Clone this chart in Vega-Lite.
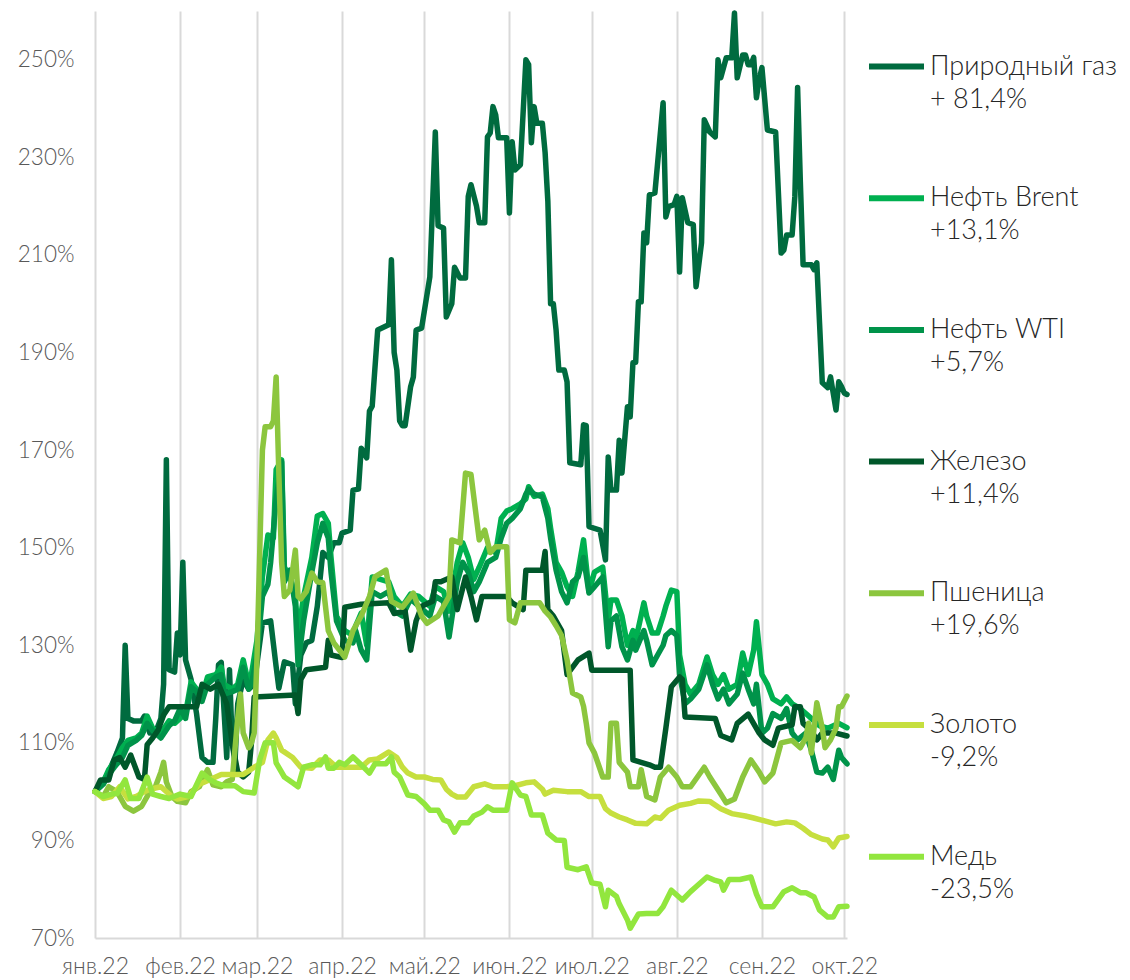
{
"$schema": "https://vega.github.io/schema/vega-lite/v6.json",
"autosize": {"type": "none"},
"padding": {"left": 95, "top": 11, "right": 283, "bottom": 42},
"width": 752,
"height": 927,
"background": "white",
"config": {"view": {"stroke": null}, "font": "Lato", "style": {"guide-label": {"lineHeight": 33}}},
"data": {"values": [
{"s":"a","d":"2022-01-01","v":100},{"s":"a","d":"2022-01-04","v":102},{"s":"a","d":"2022-01-06","v":104},{"s":"a","d":"2022-01-09","v":108},{"s":"a","d":"2022-01-11","v":111},{"s":"a","d":"2022-01-12","v":130},{"s":"a","d":"2022-01-13","v":115},{"s":"a","d":"2022-01-15","v":114.5},{"s":"a","d":"2022-01-18","v":114.5},{"s":"a","d":"2022-01-19","v":115.5},{"s":"a","d":"2022-01-21","v":112},{"s":"a","d":"2022-01-23","v":112},{"s":"a","d":"2022-01-25","v":115},{"s":"a","d":"2022-01-26","v":122},{"s":"a","d":"2022-01-27","v":168},{"s":"a","d":"2022-01-28","v":125},{"s":"a","d":"2022-01-30","v":124.5},{"s":"a","d":"2022-01-31","v":132.5},{"s":"a","d":"2022-02-01","v":128},{"s":"a","d":"2022-02-02","v":147},{"s":"a","d":"2022-02-03","v":127},{"s":"a","d":"2022-02-05","v":123},{"s":"a","d":"2022-02-07","v":116},{"s":"a","d":"2022-02-09","v":107},{"s":"a","d":"2022-02-11","v":106},{"s":"a","d":"2022-02-13","v":106},{"s":"a","d":"2022-02-14","v":115},{"s":"a","d":"2022-02-15","v":126},{"s":"a","d":"2022-02-16","v":126.5},{"s":"a","d":"2022-02-18","v":107},{"s":"a","d":"2022-02-19","v":125},{"s":"a","d":"2022-02-20","v":110},{"s":"a","d":"2022-02-21","v":106},{"s":"a","d":"2022-02-22","v":118},{"s":"a","d":"2022-02-24","v":123},{"s":"a","d":"2022-02-26","v":121},{"s":"a","d":"2022-02-28","v":122},{"s":"a","d":"2022-03-03","v":134.6},{"s":"a","d":"2022-03-06","v":135},{"s":"a","d":"2022-03-08","v":125.6},{"s":"a","d":"2022-03-09","v":121.2},{"s":"a","d":"2022-03-11","v":126.6},{"s":"a","d":"2022-03-14","v":126},{"s":"a","d":"2022-03-15","v":118},{"s":"a","d":"2022-03-17","v":128},{"s":"a","d":"2022-03-19","v":130.5},{"s":"a","d":"2022-03-21","v":131},{"s":"a","d":"2022-03-23","v":138},{"s":"a","d":"2022-03-25","v":149},{"s":"a","d":"2022-03-27","v":148},{"s":"a","d":"2022-03-29","v":151},{"s":"a","d":"2022-03-31","v":151},{"s":"a","d":"2022-04-01","v":153},{"s":"a","d":"2022-04-04","v":153.6},{"s":"a","d":"2022-04-05","v":161.8},{"s":"a","d":"2022-04-07","v":162},{"s":"a","d":"2022-04-08","v":170.4},{"s":"a","d":"2022-04-10","v":168.4},{"s":"a","d":"2022-04-11","v":178},{"s":"a","d":"2022-04-12","v":179},{"s":"a","d":"2022-04-14","v":194.6},{"s":"a","d":"2022-04-18","v":195.7},{"s":"a","d":"2022-04-19","v":209},{"s":"a","d":"2022-04-20","v":190},{"s":"a","d":"2022-04-21","v":186.4},{"s":"a","d":"2022-04-22","v":176},{"s":"a","d":"2022-04-23","v":175},{"s":"a","d":"2022-04-24","v":175},{"s":"a","d":"2022-04-26","v":183},{"s":"a","d":"2022-04-27","v":185},{"s":"a","d":"2022-04-28","v":194.6},{"s":"a","d":"2022-04-30","v":195},{"s":"a","d":"2022-05-03","v":205.5},{"s":"a","d":"2022-05-05","v":235.2},{"s":"a","d":"2022-05-06","v":216},{"s":"a","d":"2022-05-08","v":215.5},{"s":"a","d":"2022-05-09","v":197.3},{"s":"a","d":"2022-05-11","v":200},{"s":"a","d":"2022-05-12","v":207.5},{"s":"a","d":"2022-05-14","v":205.3},{"s":"a","d":"2022-05-16","v":205.3},{"s":"a","d":"2022-05-17","v":222},{"s":"a","d":"2022-05-18","v":224.4},{"s":"a","d":"2022-05-20","v":220},{"s":"a","d":"2022-05-21","v":216.6},{"s":"a","d":"2022-05-23","v":216.6},{"s":"a","d":"2022-05-24","v":234.2},{"s":"a","d":"2022-05-25","v":235},{"s":"a","d":"2022-05-26","v":240.4},{"s":"a","d":"2022-05-27","v":238.7},{"s":"a","d":"2022-05-28","v":234},{"s":"a","d":"2022-05-31","v":234},{"s":"a","d":"2022-06-01","v":218.6},{"s":"a","d":"2022-06-02","v":233.2},{"s":"a","d":"2022-06-03","v":227.4},{"s":"a","d":"2022-06-05","v":228.5},{"s":"a","d":"2022-06-07","v":250},{"s":"a","d":"2022-06-08","v":249},{"s":"a","d":"2022-06-09","v":233},{"s":"a","d":"2022-06-10","v":240.4},{"s":"a","d":"2022-06-11","v":237},{"s":"a","d":"2022-06-13","v":237},{"s":"a","d":"2022-06-14","v":231},{"s":"a","d":"2022-06-15","v":221},{"s":"a","d":"2022-06-16","v":200},{"s":"a","d":"2022-06-17","v":200},{"s":"a","d":"2022-06-18","v":194.6},{"s":"a","d":"2022-06-19","v":186.4},{"s":"a","d":"2022-06-21","v":186.4},{"s":"a","d":"2022-06-22","v":184},{"s":"a","d":"2022-06-23","v":167.4},{"s":"a","d":"2022-06-27","v":167},{"s":"a","d":"2022-06-28","v":175.2},{"s":"a","d":"2022-06-29","v":175},{"s":"a","d":"2022-06-30","v":154.3},{"s":"a","d":"2022-07-04","v":153.6},{"s":"a","d":"2022-07-06","v":147.5},{"s":"a","d":"2022-07-07","v":168.6},{"s":"a","d":"2022-07-08","v":161.8},{"s":"a","d":"2022-07-10","v":161.8},{"s":"a","d":"2022-07-11","v":172},{"s":"a","d":"2022-07-12","v":165.3},{"s":"a","d":"2022-07-14","v":178.9},{"s":"a","d":"2022-07-15","v":176.8},{"s":"a","d":"2022-07-16","v":187.9},{"s":"a","d":"2022-07-17","v":188},{"s":"a","d":"2022-07-18","v":200.4},{"s":"a","d":"2022-07-19","v":200.4},{"s":"a","d":"2022-07-20","v":214.5},{"s":"a","d":"2022-07-21","v":212.5},{"s":"a","d":"2022-07-22","v":222.3},{"s":"a","d":"2022-07-24","v":222.7},{"s":"a","d":"2022-07-27","v":241.2},{"s":"a","d":"2022-07-28","v":217.8},{"s":"a","d":"2022-07-29","v":219.9},{"s":"a","d":"2022-07-31","v":220.3},{"s":"a","d":"2022-08-01","v":222},{"s":"a","d":"2022-08-02","v":206.5},{"s":"a","d":"2022-08-03","v":221.7},{"s":"a","d":"2022-08-05","v":216.6},{"s":"a","d":"2022-08-07","v":216.2},{"s":"a","d":"2022-08-08","v":203.5},{"s":"a","d":"2022-08-10","v":212.5},{"s":"a","d":"2022-08-11","v":237.7},{"s":"a","d":"2022-08-13","v":235.2},{"s":"a","d":"2022-08-15","v":234.2},{"s":"a","d":"2022-08-16","v":250},{"s":"a","d":"2022-08-17","v":246.3},{"s":"a","d":"2022-08-19","v":250.4},{"s":"a","d":"2022-08-21","v":250.4},{"s":"a","d":"2022-08-22","v":259.6},{"s":"a","d":"2022-08-23","v":246.3},{"s":"a","d":"2022-08-25","v":251},{"s":"a","d":"2022-08-26","v":251},{"s":"a","d":"2022-08-27","v":249},{"s":"a","d":"2022-08-28","v":249},{"s":"a","d":"2022-08-29","v":250.5},{"s":"a","d":"2022-08-30","v":242.2},{"s":"a","d":"2022-08-31","v":246},{"s":"a","d":"2022-09-01","v":248.4},{"s":"a","d":"2022-09-03","v":235.6},{"s":"a","d":"2022-09-06","v":235.2},{"s":"a","d":"2022-09-08","v":210.4},{"s":"a","d":"2022-09-09","v":211},{"s":"a","d":"2022-09-10","v":214.1},{"s":"a","d":"2022-09-12","v":214.1},{"s":"a","d":"2022-09-13","v":222},{"s":"a","d":"2022-09-14","v":244.3},{"s":"a","d":"2022-09-15","v":225},{"s":"a","d":"2022-09-16","v":208},{"s":"a","d":"2022-09-19","v":208},{"s":"a","d":"2022-09-20","v":207},{"s":"a","d":"2022-09-21","v":208.4},{"s":"a","d":"2022-09-22","v":196},{"s":"a","d":"2022-09-23","v":183.8},{"s":"a","d":"2022-09-25","v":182.8},{"s":"a","d":"2022-09-26","v":185},{"s":"a","d":"2022-09-28","v":178.2},{"s":"a","d":"2022-09-29","v":184},{"s":"a","d":"2022-09-30","v":183},{"s":"a","d":"2022-10-01","v":181.7},{"s":"a","d":"2022-10-02","v":181.4},
{"s":"b","d":"2022-01-01","v":100},{"s":"b","d":"2022-01-04","v":102},{"s":"b","d":"2022-01-06","v":104.5},{"s":"b","d":"2022-01-08","v":106},{"s":"b","d":"2022-01-11","v":109},{"s":"b","d":"2022-01-13","v":110.5},{"s":"b","d":"2022-01-16","v":111},{"s":"b","d":"2022-01-18","v":112},{"s":"b","d":"2022-01-20","v":115.5},{"s":"b","d":"2022-01-22","v":113},{"s":"b","d":"2022-01-25","v":112},{"s":"b","d":"2022-01-28","v":114.5},{"s":"b","d":"2022-01-30","v":114},{"s":"b","d":"2022-02-01","v":115},{"s":"b","d":"2022-02-03","v":116},{"s":"b","d":"2022-02-05","v":122.5},{"s":"b","d":"2022-02-07","v":121},{"s":"b","d":"2022-02-09","v":119.5},{"s":"b","d":"2022-02-11","v":123.5},{"s":"b","d":"2022-02-14","v":124},{"s":"b","d":"2022-02-16","v":125.5},{"s":"b","d":"2022-02-17","v":122},{"s":"b","d":"2022-02-20","v":121},{"s":"b","d":"2022-02-22","v":122},{"s":"b","d":"2022-02-24","v":127},{"s":"b","d":"2022-02-26","v":122},{"s":"b","d":"2022-02-27","v":124},{"s":"b","d":"2022-03-01","v":131},{"s":"b","d":"2022-03-03","v":144},{"s":"b","d":"2022-03-05","v":152.6},{"s":"b","d":"2022-03-07","v":152},{"s":"b","d":"2022-03-08","v":166},{"s":"b","d":"2022-03-10","v":168},{"s":"b","d":"2022-03-11","v":146},{"s":"b","d":"2022-03-13","v":144},{"s":"b","d":"2022-03-15","v":140},{"s":"b","d":"2022-03-16","v":132},{"s":"b","d":"2022-03-18","v":140},{"s":"b","d":"2022-03-21","v":148},{"s":"b","d":"2022-03-23","v":156.5},{"s":"b","d":"2022-03-25","v":157},{"s":"b","d":"2022-03-27","v":155},{"s":"b","d":"2022-03-28","v":148},{"s":"b","d":"2022-03-30","v":136},{"s":"b","d":"2022-04-02","v":133},{"s":"b","d":"2022-04-05","v":132},{"s":"b","d":"2022-04-06","v":134},{"s":"b","d":"2022-04-08","v":136.6},{"s":"b","d":"2022-04-10","v":130},{"s":"b","d":"2022-04-12","v":144},{"s":"b","d":"2022-04-15","v":143.5},{"s":"b","d":"2022-04-18","v":143},{"s":"b","d":"2022-04-20","v":140},{"s":"b","d":"2022-04-23","v":138},{"s":"b","d":"2022-04-26","v":140.5},{"s":"b","d":"2022-04-29","v":140},{"s":"b","d":"2022-05-01","v":139},{"s":"b","d":"2022-05-03","v":138},{"s":"b","d":"2022-05-05","v":142},{"s":"b","d":"2022-05-08","v":141},{"s":"b","d":"2022-05-10","v":137},{"s":"b","d":"2022-05-13","v":147},{"s":"b","d":"2022-05-15","v":151},{"s":"b","d":"2022-05-17","v":148},{"s":"b","d":"2022-05-19","v":143.5},{"s":"b","d":"2022-05-21","v":146},{"s":"b","d":"2022-05-24","v":150},{"s":"b","d":"2022-05-27","v":149},{"s":"b","d":"2022-05-29","v":156},{"s":"b","d":"2022-05-31","v":157.5},{"s":"b","d":"2022-06-02","v":158},{"s":"b","d":"2022-06-05","v":159},{"s":"b","d":"2022-06-07","v":160},{"s":"b","d":"2022-06-08","v":162.5},{"s":"b","d":"2022-06-10","v":160.5},{"s":"b","d":"2022-06-13","v":161},{"s":"b","d":"2022-06-15","v":158},{"s":"b","d":"2022-06-16","v":154},{"s":"b","d":"2022-06-18","v":147},{"s":"b","d":"2022-06-20","v":145},{"s":"b","d":"2022-06-22","v":142},{"s":"b","d":"2022-06-24","v":140},{"s":"b","d":"2022-06-26","v":145},{"s":"b","d":"2022-06-28","v":151.6},{"s":"b","d":"2022-06-30","v":141},{"s":"b","d":"2022-07-02","v":145},{"s":"b","d":"2022-07-05","v":146},{"s":"b","d":"2022-07-07","v":135},{"s":"b","d":"2022-07-08","v":139.3},{"s":"b","d":"2022-07-10","v":139.3},{"s":"b","d":"2022-07-12","v":136},{"s":"b","d":"2022-07-14","v":130},{"s":"b","d":"2022-07-16","v":133},{"s":"b","d":"2022-07-17","v":131},{"s":"b","d":"2022-07-20","v":138.7},{"s":"b","d":"2022-07-21","v":136},{"s":"b","d":"2022-07-23","v":132.5},{"s":"b","d":"2022-07-25","v":132.5},{"s":"b","d":"2022-07-27","v":136},{"s":"b","d":"2022-07-28","v":138},{"s":"b","d":"2022-07-30","v":141.3},{"s":"b","d":"2022-08-01","v":141},{"s":"b","d":"2022-08-02","v":128},{"s":"b","d":"2022-08-04","v":122},{"s":"b","d":"2022-08-06","v":120},{"s":"b","d":"2022-08-09","v":122},{"s":"b","d":"2022-08-12","v":127.6},{"s":"b","d":"2022-08-14","v":124},{"s":"b","d":"2022-08-16","v":122},{"s":"b","d":"2022-08-18","v":124},{"s":"b","d":"2022-08-20","v":121},{"s":"b","d":"2022-08-23","v":122},{"s":"b","d":"2022-08-25","v":128.4},{"s":"b","d":"2022-08-27","v":124},{"s":"b","d":"2022-08-29","v":129},{"s":"b","d":"2022-08-30","v":134.8},{"s":"b","d":"2022-09-01","v":124},{"s":"b","d":"2022-09-03","v":122},{"s":"b","d":"2022-09-05","v":119},{"s":"b","d":"2022-09-08","v":118},{"s":"b","d":"2022-09-10","v":119.4},{"s":"b","d":"2022-09-12","v":118},{"s":"b","d":"2022-09-15","v":117},{"s":"b","d":"2022-09-17","v":116},{"s":"b","d":"2022-09-20","v":114.5},{"s":"b","d":"2022-09-22","v":113.5},{"s":"b","d":"2022-09-25","v":113},{"s":"b","d":"2022-09-27","v":113.5},{"s":"b","d":"2022-09-29","v":114},{"s":"b","d":"2022-10-02","v":113.1},
{"s":"c","d":"2022-01-01","v":100},{"s":"c","d":"2022-01-04","v":101.5},{"s":"c","d":"2022-01-06","v":103.5},{"s":"c","d":"2022-01-08","v":105},{"s":"c","d":"2022-01-11","v":107},{"s":"c","d":"2022-01-13","v":109.5},{"s":"c","d":"2022-01-16","v":110.5},{"s":"c","d":"2022-01-18","v":111.5},{"s":"c","d":"2022-01-20","v":114},{"s":"c","d":"2022-01-22","v":112.5},{"s":"c","d":"2022-01-25","v":111},{"s":"c","d":"2022-01-28","v":113.5},{"s":"c","d":"2022-01-30","v":114.5},{"s":"c","d":"2022-02-01","v":117},{"s":"c","d":"2022-02-03","v":115},{"s":"c","d":"2022-02-05","v":121.5},{"s":"c","d":"2022-02-07","v":120.5},{"s":"c","d":"2022-02-09","v":118.5},{"s":"c","d":"2022-02-11","v":122},{"s":"c","d":"2022-02-14","v":123.5},{"s":"c","d":"2022-02-16","v":124},{"s":"c","d":"2022-02-17","v":120},{"s":"c","d":"2022-02-20","v":120.5},{"s":"c","d":"2022-02-22","v":121},{"s":"c","d":"2022-02-24","v":125.5},{"s":"c","d":"2022-02-26","v":121},{"s":"c","d":"2022-02-27","v":122},{"s":"c","d":"2022-03-01","v":128},{"s":"c","d":"2022-03-03","v":140},{"s":"c","d":"2022-03-05","v":142.5},{"s":"c","d":"2022-03-06","v":147},{"s":"c","d":"2022-03-07","v":153.4},{"s":"c","d":"2022-03-08","v":160},{"s":"c","d":"2022-03-10","v":167.6},{"s":"c","d":"2022-03-11","v":143},{"s":"c","d":"2022-03-13","v":145.4},{"s":"c","d":"2022-03-15","v":138},{"s":"c","d":"2022-03-16","v":126},{"s":"c","d":"2022-03-18","v":135},{"s":"c","d":"2022-03-21","v":145},{"s":"c","d":"2022-03-23","v":151},{"s":"c","d":"2022-03-25","v":155},{"s":"c","d":"2022-03-27","v":152},{"s":"c","d":"2022-03-28","v":145},{"s":"c","d":"2022-03-30","v":135},{"s":"c","d":"2022-04-02","v":131},{"s":"c","d":"2022-04-05","v":130.5},{"s":"c","d":"2022-04-06","v":133},{"s":"c","d":"2022-04-08","v":129},{"s":"c","d":"2022-04-10","v":127},{"s":"c","d":"2022-04-12","v":141},{"s":"c","d":"2022-04-15","v":140},{"s":"c","d":"2022-04-18","v":141},{"s":"c","d":"2022-04-20","v":137},{"s":"c","d":"2022-04-23","v":136},{"s":"c","d":"2022-04-26","v":139.5},{"s":"c","d":"2022-04-29","v":138},{"s":"c","d":"2022-05-01","v":137},{"s":"c","d":"2022-05-03","v":136},{"s":"c","d":"2022-05-05","v":140},{"s":"c","d":"2022-05-08","v":139},{"s":"c","d":"2022-05-10","v":131.7},{"s":"c","d":"2022-05-13","v":143},{"s":"c","d":"2022-05-15","v":147},{"s":"c","d":"2022-05-17","v":145},{"s":"c","d":"2022-05-19","v":141},{"s":"c","d":"2022-05-21","v":143},{"s":"c","d":"2022-05-24","v":147},{"s":"c","d":"2022-05-27","v":148},{"s":"c","d":"2022-05-29","v":152},{"s":"c","d":"2022-05-31","v":155},{"s":"c","d":"2022-06-02","v":156},{"s":"c","d":"2022-06-05","v":158},{"s":"c","d":"2022-06-07","v":161},{"s":"c","d":"2022-06-08","v":162},{"s":"c","d":"2022-06-10","v":161},{"s":"c","d":"2022-06-13","v":160.4},{"s":"c","d":"2022-06-15","v":156},{"s":"c","d":"2022-06-16","v":152},{"s":"c","d":"2022-06-18","v":145.4},{"s":"c","d":"2022-06-20","v":141},{"s":"c","d":"2022-06-22","v":138.7},{"s":"c","d":"2022-06-24","v":143},{"s":"c","d":"2022-06-26","v":144},{"s":"c","d":"2022-06-28","v":148},{"s":"c","d":"2022-06-30","v":140.7},{"s":"c","d":"2022-07-02","v":142},{"s":"c","d":"2022-07-05","v":144},{"s":"c","d":"2022-07-07","v":129.7},{"s":"c","d":"2022-07-08","v":135},{"s":"c","d":"2022-07-10","v":136},{"s":"c","d":"2022-07-12","v":129.7},{"s":"c","d":"2022-07-14","v":127},{"s":"c","d":"2022-07-16","v":131},{"s":"c","d":"2022-07-17","v":129},{"s":"c","d":"2022-07-20","v":133},{"s":"c","d":"2022-07-21","v":131},{"s":"c","d":"2022-07-23","v":126},{"s":"c","d":"2022-07-25","v":128},{"s":"c","d":"2022-07-27","v":130},{"s":"c","d":"2022-07-28","v":132},{"s":"c","d":"2022-07-30","v":133},{"s":"c","d":"2022-08-01","v":132},{"s":"c","d":"2022-08-02","v":124},{"s":"c","d":"2022-08-04","v":118},{"s":"c","d":"2022-08-06","v":119},{"s":"c","d":"2022-08-09","v":121},{"s":"c","d":"2022-08-12","v":126},{"s":"c","d":"2022-08-14","v":122},{"s":"c","d":"2022-08-16","v":119},{"s":"c","d":"2022-08-18","v":121},{"s":"c","d":"2022-08-20","v":118},{"s":"c","d":"2022-08-23","v":120},{"s":"c","d":"2022-08-25","v":124.3},{"s":"c","d":"2022-08-27","v":121},{"s":"c","d":"2022-08-29","v":118},{"s":"c","d":"2022-08-30","v":122},{"s":"c","d":"2022-09-01","v":112},{"s":"c","d":"2022-09-03","v":113},{"s":"c","d":"2022-09-05","v":116},{"s":"c","d":"2022-09-08","v":115},{"s":"c","d":"2022-09-10","v":117},{"s":"c","d":"2022-09-12","v":112},{"s":"c","d":"2022-09-14","v":110.6},{"s":"c","d":"2022-09-17","v":112},{"s":"c","d":"2022-09-19","v":108.5},{"s":"c","d":"2022-09-21","v":104},{"s":"c","d":"2022-09-23","v":103.8},{"s":"c","d":"2022-09-25","v":105},{"s":"c","d":"2022-09-27","v":102.5},{"s":"c","d":"2022-09-29","v":108.5},{"s":"c","d":"2022-09-30","v":107},{"s":"c","d":"2022-10-02","v":105.7},
{"s":"d","d":"2022-01-01","v":100},{"s":"d","d":"2022-01-03","v":102.4},{"s":"d","d":"2022-01-06","v":102.4},{"s":"d","d":"2022-01-08","v":106.5},{"s":"d","d":"2022-01-10","v":107},{"s":"d","d":"2022-01-12","v":105},{"s":"d","d":"2022-01-14","v":107.5},{"s":"d","d":"2022-01-17","v":103},{"s":"d","d":"2022-01-19","v":102.5},{"s":"d","d":"2022-01-20","v":109.6},{"s":"d","d":"2022-01-22","v":111},{"s":"d","d":"2022-01-24","v":112.6},{"s":"d","d":"2022-01-26","v":115.7},{"s":"d","d":"2022-01-28","v":117.4},{"s":"d","d":"2022-02-07","v":117.4},{"s":"d","d":"2022-02-09","v":122},{"s":"d","d":"2022-02-12","v":121},{"s":"d","d":"2022-02-15","v":122},{"s":"d","d":"2022-02-18","v":118},{"s":"d","d":"2022-02-20","v":110},{"s":"d","d":"2022-02-22","v":104},{"s":"d","d":"2022-02-24","v":103},{"s":"d","d":"2022-02-26","v":104},{"s":"d","d":"2022-02-27","v":110},{"s":"d","d":"2022-02-28","v":119.4},{"s":"d","d":"2022-03-15","v":119.8},{"s":"d","d":"2022-03-16","v":116},{"s":"d","d":"2022-03-17","v":123},{"s":"d","d":"2022-03-19","v":125},{"s":"d","d":"2022-03-26","v":125.5},{"s":"d","d":"2022-03-27","v":131},{"s":"d","d":"2022-03-28","v":128},{"s":"d","d":"2022-04-01","v":127.5},{"s":"d","d":"2022-04-02","v":137.8},{"s":"d","d":"2022-04-08","v":138.4},{"s":"d","d":"2022-04-18","v":138.7},{"s":"d","d":"2022-04-20","v":136.5},{"s":"d","d":"2022-04-24","v":137},{"s":"d","d":"2022-04-26","v":129},{"s":"d","d":"2022-04-28","v":135},{"s":"d","d":"2022-04-30","v":138},{"s":"d","d":"2022-05-04","v":139},{"s":"d","d":"2022-05-05","v":143},{"s":"d","d":"2022-05-07","v":143},{"s":"d","d":"2022-05-11","v":144},{"s":"d","d":"2022-05-13","v":137.3},{"s":"d","d":"2022-05-16","v":144},{"s":"d","d":"2022-05-18","v":140},{"s":"d","d":"2022-05-20","v":135.2},{"s":"d","d":"2022-05-22","v":140},{"s":"d","d":"2022-05-31","v":140},{"s":"d","d":"2022-06-02","v":138.7},{"s":"d","d":"2022-06-06","v":137.3},{"s":"d","d":"2022-06-07","v":145.4},{"s":"d","d":"2022-06-13","v":145.4},{"s":"d","d":"2022-06-14","v":149.2},{"s":"d","d":"2022-06-15","v":137.3},{"s":"d","d":"2022-06-17","v":136},{"s":"d","d":"2022-06-20","v":133},{"s":"d","d":"2022-06-22","v":124},{"s":"d","d":"2022-06-26","v":127},{"s":"d","d":"2022-06-30","v":128.4},{"s":"d","d":"2022-07-01","v":124.9},{"s":"d","d":"2022-07-15","v":124.9},{"s":"d","d":"2022-07-16","v":106.5},{"s":"d","d":"2022-07-22","v":105.5},{"s":"d","d":"2022-07-24","v":105},{"s":"d","d":"2022-07-26","v":105},{"s":"d","d":"2022-07-28","v":113},{"s":"d","d":"2022-07-30","v":121.5},{"s":"d","d":"2022-08-02","v":123.5},{"s":"d","d":"2022-08-03","v":123},{"s":"d","d":"2022-08-04","v":115.3},{"s":"d","d":"2022-08-15","v":115},{"s":"d","d":"2022-08-17","v":111.5},{"s":"d","d":"2022-08-21","v":110.6},{"s":"d","d":"2022-08-23","v":114},{"s":"d","d":"2022-08-27","v":115.9},{"s":"d","d":"2022-08-31","v":112},{"s":"d","d":"2022-09-02","v":110.6},{"s":"d","d":"2022-09-05","v":109.5},{"s":"d","d":"2022-09-07","v":113},{"s":"d","d":"2022-09-12","v":113.7},{"s":"d","d":"2022-09-13","v":117.4},{"s":"d","d":"2022-09-15","v":117.4},{"s":"d","d":"2022-09-16","v":114},{"s":"d","d":"2022-09-19","v":112.5},{"s":"d","d":"2022-09-21","v":110.6},{"s":"d","d":"2022-09-23","v":112},{"s":"d","d":"2022-09-25","v":112},{"s":"d","d":"2022-09-28","v":112},{"s":"d","d":"2022-10-02","v":111.4},
{"s":"e","d":"2022-01-01","v":100},{"s":"e","d":"2022-01-04","v":99},{"s":"e","d":"2022-01-06","v":101},{"s":"e","d":"2022-01-09","v":100},{"s":"e","d":"2022-01-12","v":97},{"s":"e","d":"2022-01-15","v":96},{"s":"e","d":"2022-01-18","v":97},{"s":"e","d":"2022-01-21","v":100},{"s":"e","d":"2022-01-23","v":101},{"s":"e","d":"2022-01-25","v":104},{"s":"e","d":"2022-01-26","v":106},{"s":"e","d":"2022-01-27","v":102},{"s":"e","d":"2022-01-29","v":99},{"s":"e","d":"2022-01-31","v":98},{"s":"e","d":"2022-02-03","v":97.7},{"s":"e","d":"2022-02-05","v":100},{"s":"e","d":"2022-02-08","v":101},{"s":"e","d":"2022-02-11","v":104.5},{"s":"e","d":"2022-02-13","v":101.4},{"s":"e","d":"2022-02-16","v":101},{"s":"e","d":"2022-02-18","v":102},{"s":"e","d":"2022-02-20","v":102.5},{"s":"e","d":"2022-02-22","v":115},{"s":"e","d":"2022-02-23","v":120},{"s":"e","d":"2022-02-24","v":112},{"s":"e","d":"2022-02-26","v":109},{"s":"e","d":"2022-02-27","v":110},{"s":"e","d":"2022-02-28","v":112},{"s":"e","d":"2022-03-01","v":127},{"s":"e","d":"2022-03-03","v":170},{"s":"e","d":"2022-03-04","v":174.8},{"s":"e","d":"2022-03-06","v":174.8},{"s":"e","d":"2022-03-07","v":176},{"s":"e","d":"2022-03-08","v":185},{"s":"e","d":"2022-03-09","v":165},{"s":"e","d":"2022-03-10","v":147},{"s":"e","d":"2022-03-11","v":140},{"s":"e","d":"2022-03-13","v":141.3},{"s":"e","d":"2022-03-15","v":149.5},{"s":"e","d":"2022-03-16","v":140},{"s":"e","d":"2022-03-17","v":139.5},{"s":"e","d":"2022-03-19","v":141},{"s":"e","d":"2022-03-21","v":144.8},{"s":"e","d":"2022-03-23","v":143},{"s":"e","d":"2022-03-25","v":142.8},{"s":"e","d":"2022-03-27","v":133},{"s":"e","d":"2022-03-29","v":130.5},{"s":"e","d":"2022-04-02","v":127.6},{"s":"e","d":"2022-04-05","v":133},{"s":"e","d":"2022-04-08","v":136},{"s":"e","d":"2022-04-11","v":140},{"s":"e","d":"2022-04-13","v":144},{"s":"e","d":"2022-04-17","v":145.4},{"s":"e","d":"2022-04-19","v":139},{"s":"e","d":"2022-04-23","v":137.8},{"s":"e","d":"2022-04-27","v":140.7},{"s":"e","d":"2022-04-30","v":136},{"s":"e","d":"2022-05-02","v":134.5},{"s":"e","d":"2022-05-06","v":136},{"s":"e","d":"2022-05-10","v":140},{"s":"e","d":"2022-05-11","v":151.6},{"s":"e","d":"2022-05-14","v":151},{"s":"e","d":"2022-05-16","v":165.3},{"s":"e","d":"2022-05-18","v":165},{"s":"e","d":"2022-05-20","v":156},{"s":"e","d":"2022-05-21","v":151.6},{"s":"e","d":"2022-05-23","v":153.6},{"s":"e","d":"2022-05-25","v":149},{"s":"e","d":"2022-05-27","v":150.2},{"s":"e","d":"2022-05-31","v":150.2},{"s":"e","d":"2022-06-01","v":135.2},{"s":"e","d":"2022-06-03","v":134.6},{"s":"e","d":"2022-06-05","v":138.7},{"s":"e","d":"2022-06-12","v":138.7},{"s":"e","d":"2022-06-14","v":137},{"s":"e","d":"2022-06-16","v":135.8},{"s":"e","d":"2022-06-18","v":134},{"s":"e","d":"2022-06-20","v":132},{"s":"e","d":"2022-06-22","v":127},{"s":"e","d":"2022-06-24","v":120.2},{"s":"e","d":"2022-06-27","v":119.4},{"s":"e","d":"2022-06-28","v":117.5},{"s":"e","d":"2022-06-29","v":114},{"s":"e","d":"2022-06-30","v":110},{"s":"e","d":"2022-07-02","v":107.9},{"s":"e","d":"2022-07-05","v":103},{"s":"e","d":"2022-07-07","v":103},{"s":"e","d":"2022-07-08","v":114},{"s":"e","d":"2022-07-10","v":114},{"s":"e","d":"2022-07-11","v":106},{"s":"e","d":"2022-07-14","v":104},{"s":"e","d":"2022-07-15","v":101},{"s":"e","d":"2022-07-18","v":101},{"s":"e","d":"2022-07-19","v":104.5},{"s":"e","d":"2022-07-21","v":99},{"s":"e","d":"2022-07-24","v":98.3},{"s":"e","d":"2022-07-26","v":103},{"s":"e","d":"2022-07-29","v":105},{"s":"e","d":"2022-08-01","v":103},{"s":"e","d":"2022-08-03","v":101},{"s":"e","d":"2022-08-06","v":101},{"s":"e","d":"2022-08-11","v":105},{"s":"e","d":"2022-08-13","v":103},{"s":"e","d":"2022-08-17","v":99.5},{"s":"e","d":"2022-08-19","v":97.7},{"s":"e","d":"2022-08-22","v":98.5},{"s":"e","d":"2022-08-25","v":103},{"s":"e","d":"2022-08-28","v":106.5},{"s":"e","d":"2022-08-31","v":104},{"s":"e","d":"2022-09-02","v":102},{"s":"e","d":"2022-09-05","v":103.8},{"s":"e","d":"2022-09-08","v":110},{"s":"e","d":"2022-09-12","v":110.5},{"s":"e","d":"2022-09-15","v":109},{"s":"e","d":"2022-09-17","v":111},{"s":"e","d":"2022-09-18","v":114},{"s":"e","d":"2022-09-19","v":107.9},{"s":"e","d":"2022-09-21","v":118.2},{"s":"e","d":"2022-09-23","v":113},{"s":"e","d":"2022-09-24","v":109},{"s":"e","d":"2022-09-26","v":110.6},{"s":"e","d":"2022-09-28","v":113},{"s":"e","d":"2022-09-29","v":117.4},{"s":"e","d":"2022-09-30","v":117.4},{"s":"e","d":"2022-10-02","v":119.6},
{"s":"f","d":"2022-01-01","v":100},{"s":"f","d":"2022-01-04","v":98.6},{"s":"f","d":"2022-01-07","v":99},{"s":"f","d":"2022-01-10","v":101},{"s":"f","d":"2022-01-13","v":98.5},{"s":"f","d":"2022-01-16","v":99},{"s":"f","d":"2022-01-19","v":100},{"s":"f","d":"2022-01-21","v":100.5},{"s":"f","d":"2022-01-25","v":101},{"s":"f","d":"2022-01-29","v":99},{"s":"f","d":"2022-01-31","v":98.5},{"s":"f","d":"2022-02-04","v":99},{"s":"f","d":"2022-02-08","v":101.5},{"s":"f","d":"2022-02-12","v":102.5},{"s":"f","d":"2022-02-16","v":103.5},{"s":"f","d":"2022-02-20","v":103.5},{"s":"f","d":"2022-02-24","v":103.5},{"s":"f","d":"2022-02-28","v":105},{"s":"f","d":"2022-03-03","v":106},{"s":"f","d":"2022-03-05","v":110.6},{"s":"f","d":"2022-03-07","v":112},{"s":"f","d":"2022-03-08","v":111},{"s":"f","d":"2022-03-10","v":108.5},{"s":"f","d":"2022-03-14","v":107},{"s":"f","d":"2022-03-17","v":105},{"s":"f","d":"2022-03-21","v":104.8},{"s":"f","d":"2022-03-24","v":106.5},{"s":"f","d":"2022-03-27","v":106.5},{"s":"f","d":"2022-03-30","v":105},{"s":"f","d":"2022-04-03","v":105},{"s":"f","d":"2022-04-08","v":105},{"s":"f","d":"2022-04-11","v":106.5},{"s":"f","d":"2022-04-14","v":106.7},{"s":"f","d":"2022-04-18","v":108.1},{"s":"f","d":"2022-04-21","v":107},{"s":"f","d":"2022-04-23","v":105},{"s":"f","d":"2022-04-25","v":103.8},{"s":"f","d":"2022-04-28","v":103},{"s":"f","d":"2022-05-01","v":103},{"s":"f","d":"2022-05-04","v":102.5},{"s":"f","d":"2022-05-07","v":102.4},{"s":"f","d":"2022-05-09","v":100.5},{"s":"f","d":"2022-05-11","v":99.5},{"s":"f","d":"2022-05-13","v":98.9},{"s":"f","d":"2022-05-16","v":98.9},{"s":"f","d":"2022-05-19","v":101},{"s":"f","d":"2022-05-23","v":101.6},{"s":"f","d":"2022-05-26","v":101},{"s":"f","d":"2022-05-31","v":101},{"s":"f","d":"2022-06-03","v":101.2},{"s":"f","d":"2022-06-07","v":101.8},{"s":"f","d":"2022-06-10","v":102},{"s":"f","d":"2022-06-13","v":100.5},{"s":"f","d":"2022-06-14","v":99.5},{"s":"f","d":"2022-06-17","v":100.3},{"s":"f","d":"2022-06-22","v":100},{"s":"f","d":"2022-06-27","v":100},{"s":"f","d":"2022-06-30","v":99},{"s":"f","d":"2022-07-04","v":99},{"s":"f","d":"2022-07-06","v":96.5},{"s":"f","d":"2022-07-08","v":95.6},{"s":"f","d":"2022-07-11","v":94.8},{"s":"f","d":"2022-07-14","v":94.2},{"s":"f","d":"2022-07-17","v":93.5},{"s":"f","d":"2022-07-21","v":93.4},{"s":"f","d":"2022-07-24","v":94.8},{"s":"f","d":"2022-07-26","v":94.5},{"s":"f","d":"2022-07-29","v":96.2},{"s":"f","d":"2022-08-02","v":97.2},{"s":"f","d":"2022-08-06","v":97.6},{"s":"f","d":"2022-08-09","v":98.1},{"s":"f","d":"2022-08-13","v":98},{"s":"f","d":"2022-08-17","v":96.5},{"s":"f","d":"2022-08-21","v":95.5},{"s":"f","d":"2022-08-26","v":95},{"s":"f","d":"2022-08-29","v":94.6},{"s":"f","d":"2022-09-02","v":94},{"s":"f","d":"2022-09-06","v":93.4},{"s":"f","d":"2022-09-10","v":93.8},{"s":"f","d":"2022-09-13","v":93.6},{"s":"f","d":"2022-09-16","v":92.5},{"s":"f","d":"2022-09-19","v":91.2},{"s":"f","d":"2022-09-23","v":90.3},{"s":"f","d":"2022-09-25","v":90.1},{"s":"f","d":"2022-09-27","v":88.7},{"s":"f","d":"2022-09-29","v":90.5},{"s":"f","d":"2022-10-02","v":90.8},
{"s":"g","d":"2022-01-01","v":100},{"s":"g","d":"2022-01-04","v":99},{"s":"g","d":"2022-01-07","v":99.5},{"s":"g","d":"2022-01-09","v":99.6},{"s":"g","d":"2022-01-12","v":102.4},{"s":"g","d":"2022-01-14","v":98.6},{"s":"g","d":"2022-01-17","v":98.6},{"s":"g","d":"2022-01-20","v":103},{"s":"g","d":"2022-01-22","v":99.5},{"s":"g","d":"2022-01-25","v":99},{"s":"g","d":"2022-01-28","v":98.6},{"s":"g","d":"2022-02-01","v":99.5},{"s":"g","d":"2022-02-05","v":99},{"s":"g","d":"2022-02-09","v":103.8},{"s":"g","d":"2022-02-12","v":102.4},{"s":"g","d":"2022-02-14","v":101.8},{"s":"g","d":"2022-02-17","v":101.2},{"s":"g","d":"2022-02-21","v":101.2},{"s":"g","d":"2022-02-24","v":100},{"s":"g","d":"2022-02-28","v":99.7},{"s":"g","d":"2022-03-02","v":106.5},{"s":"g","d":"2022-03-04","v":110},{"s":"g","d":"2022-03-07","v":110},{"s":"g","d":"2022-03-08","v":105.9},{"s":"g","d":"2022-03-11","v":103},{"s":"g","d":"2022-03-14","v":101.8},{"s":"g","d":"2022-03-16","v":101},{"s":"g","d":"2022-03-18","v":105},{"s":"g","d":"2022-03-21","v":105.5},{"s":"g","d":"2022-03-24","v":105.5},{"s":"g","d":"2022-03-26","v":107.1},{"s":"g","d":"2022-03-27","v":104.8},{"s":"g","d":"2022-03-29","v":104.8},{"s":"g","d":"2022-03-31","v":106},{"s":"g","d":"2022-04-02","v":105.5},{"s":"g","d":"2022-04-05","v":107.1},{"s":"g","d":"2022-04-08","v":105.5},{"s":"g","d":"2022-04-11","v":103.8},{"s":"g","d":"2022-04-13","v":105.7},{"s":"g","d":"2022-04-17","v":105.7},{"s":"g","d":"2022-04-19","v":107.1},{"s":"g","d":"2022-04-20","v":104},{"s":"g","d":"2022-04-22","v":103},{"s":"g","d":"2022-04-25","v":99.3},{"s":"g","d":"2022-04-28","v":99},{"s":"g","d":"2022-05-01","v":97.5},{"s":"g","d":"2022-05-03","v":96.2},{"s":"g","d":"2022-05-06","v":96.2},{"s":"g","d":"2022-05-08","v":94.2},{"s":"g","d":"2022-05-10","v":93.8},{"s":"g","d":"2022-05-12","v":91.7},{"s":"g","d":"2022-05-14","v":93.6},{"s":"g","d":"2022-05-17","v":93.6},{"s":"g","d":"2022-05-19","v":95},{"s":"g","d":"2022-05-22","v":95.8},{"s":"g","d":"2022-05-24","v":96.9},{"s":"g","d":"2022-05-26","v":96.2},{"s":"g","d":"2022-05-31","v":96.2},{"s":"g","d":"2022-06-02","v":101.8},{"s":"g","d":"2022-06-05","v":99.3},{"s":"g","d":"2022-06-07","v":99},{"s":"g","d":"2022-06-09","v":95.2},{"s":"g","d":"2022-06-13","v":95.2},{"s":"g","d":"2022-06-15","v":91.5},{"s":"g","d":"2022-06-18","v":90.1},{"s":"g","d":"2022-06-21","v":90},{"s":"g","d":"2022-06-22","v":84.5},{"s":"g","d":"2022-06-26","v":84},{"s":"g","d":"2022-06-29","v":84.6},{"s":"g","d":"2022-07-01","v":81.3},{"s":"g","d":"2022-07-04","v":81},{"s":"g","d":"2022-07-06","v":76.4},{"s":"g","d":"2022-07-07","v":79.8},{"s":"g","d":"2022-07-10","v":78.5},{"s":"g","d":"2022-07-11","v":77},{"s":"g","d":"2022-07-14","v":73.7},{"s":"g","d":"2022-07-15","v":72},{"s":"g","d":"2022-07-18","v":74.9},{"s":"g","d":"2022-07-21","v":75},{"s":"g","d":"2022-07-25","v":75},{"s":"g","d":"2022-07-27","v":76.4},{"s":"g","d":"2022-07-30","v":79.8},{"s":"g","d":"2022-08-03","v":77.8},{"s":"g","d":"2022-08-06","v":79.5},{"s":"g","d":"2022-08-08","v":80.5},{"s":"g","d":"2022-08-12","v":82.5},{"s":"g","d":"2022-08-15","v":81.8},{"s":"g","d":"2022-08-17","v":81.5},{"s":"g","d":"2022-08-18","v":79.8},{"s":"g","d":"2022-08-20","v":82},{"s":"g","d":"2022-08-24","v":82},{"s":"g","d":"2022-08-28","v":82.5},{"s":"g","d":"2022-08-30","v":79},{"s":"g","d":"2022-09-01","v":76.4},{"s":"g","d":"2022-09-05","v":76.4},{"s":"g","d":"2022-09-09","v":79.5},{"s":"g","d":"2022-09-12","v":80.3},{"s":"g","d":"2022-09-15","v":79.3},{"s":"g","d":"2022-09-17","v":79.3},{"s":"g","d":"2022-09-20","v":78.4},{"s":"g","d":"2022-09-22","v":75.7},{"s":"g","d":"2022-09-25","v":74.3},{"s":"g","d":"2022-09-27","v":74.3},{"s":"g","d":"2022-09-29","v":76.4},{"s":"g","d":"2022-10-02","v":76.5}
]},
"mark": {"type": "line", "strokeWidth": 5.5, "strokeJoin": "round", "strokeCap": "round"},
"encoding": {
  "x": {"field": "d", "type": "temporal",
    "scale": {"type": "utc", "domain": [{"year": 2022, "month": 1, "date": 1, "utc": true}, {"year": 2022, "month": 10, "date": 2, "utc": true}]},
    "axis": {"title": null, "grid": true, "gridColor": "#d9d9d9", "gridWidth": 2, "domainColor": "#d9d9d9", "domainWidth": 2, "ticks": false,
      "tickCount": {"interval": "month", "step": 1},
      "labelExpr": "['янв','фев','мар','апр','май','июн','июл','авг','сен','окт','ноя','дек'][utcmonth(datum.value)] + '.22'",
      "labelFontSize": 23, "labelColor": "#595959", "labelFont": "Lato", "labelFontWeight": 300, "labelPadding": 17, "labelFlush": false, "labelOverlap": false}},
  "y": {"field": "v", "type": "quantitative",
    "scale": {"domain": [70, 260], "nice": false, "zero": false},
    "axis": {"title": null, "grid": false, "domain": false, "ticks": false, "values": [70, 90, 110, 130, 150, 170, 190, 210, 230, 250],
      "labelExpr": "datum.value + '%'", "labelFontSize": 22.5, "labelColor": "#595959", "labelFont": "Lato", "labelFontWeight": 300, "labelPadding": 21}},
  "color": {"field": "s", "type": "nominal",
    "scale": {"domain": ["a", "b", "c", "d", "e", "f", "g"], "range": ["#006B3F", "#00B050", "#00934A", "#00572A", "#8CC63E", "#C6DF3E", "#92E63E"]},
    "legend": {"orient": "none", "legendX": 771, "legendY": 25, "title": null, "symbolType": "stroke", "symbolSize": 3025, "symbolStrokeWidth": 6,
      "labelFontSize": 27, "labelFont": "Lato", "labelFontWeight": 300, "labelColor": "#262626", "labelLimit": 400, "labelOffset": 3, "rowPadding": 54.7,
      "labelExpr": "{'a':['\u00a0\u00a0Природный газ','+ 81,4%'],'b':['\u00a0\u00a0Нефть Brent','+13,1%'],'c':['\u00a0\u00a0Нефть WTI','+5,7%'],'d':['\u00a0\u00a0Железо','+11,4%'],'e':['\u00a0\u00a0Пшеница','+19,6%'],'f':['\u00a0\u00a0Золото','-9,2%'],'g':['\u00a0\u00a0Медь','-23,5%']}[datum.value]"}}
}
}
